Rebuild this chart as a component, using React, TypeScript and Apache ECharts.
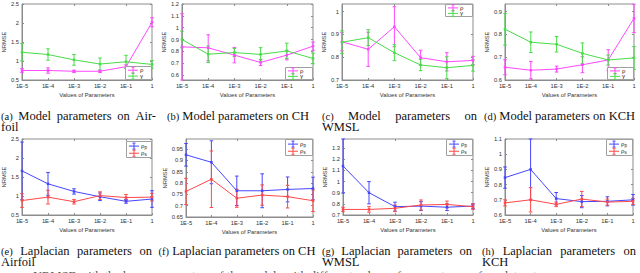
import React, { useEffect, useRef } from "react";
import * as echarts from "echarts";

const xCategories = ["1E-5", "1E-4", "1E-3", "1E-2", "1E-1", "1"];

// (a) Model parameters on Airfoil
const airfoilModelRho = [0.75, 0.75, 0.73, 0.73, 0.85, 2.02];
const airfoilModelRhoErr = [0.05, 0.07, 0.03, 0.03, 0.05, 0.12];
const airfoilModelGamma = [1.23, 1.17, 1.03, 0.92, 0.98, 0.91];
const airfoilModelGammaErr = [0.23, 0.15, 0.14, 0.16, 0.17, 0.1];
const airfoilTicks = [0.5, 1, 1.5, 2, 2.5];

// (b) Model parameters on CH
const chModelRho = [0.838, 0.83, 0.768, 0.706, 0.768, 0.844];
const chModelRhoErr = [0.28, 0.11, 0.065, 0.025, 0.04, 0.035];
const chModelGamma = [0.9, 0.776, 0.79, 0.774, 0.804, 0.74];
const chModelGammaErr = [0.07, 0.07, 0.035, 0.057, 0.065, 0.045];
const chModelTicks = [0.6, 0.7, 0.8, 0.9, 1, 1.1, 1.2];

// (c) Model parameters on WMSL
const wmslModelRho = [0.868, 0.835, 0.934, 0.798, 0.78, 0.786];
const wmslModelRhoErr = [0.04, 0.075, 0.088, 0.033, 0.04, 0.018];
const wmslModelGamma = [0.866, 0.886, 0.82, 0.766, 0.754, 0.764];
const wmslModelGammaErr = [0.05, 0.035, 0.035, 0.025, 0.048, 0.025];
const wmslModelTicks = [0.7, 0.8, 0.9, 1];

// (d) Model parameters on KCH
const kchModelRho = [0.656, 0.643, 0.648, 0.667, 0.688, 0.871];
const kchModelRhoErr = [0.033, 0.038, 0.013, 0.035, 0.045, 0.062];
const kchModelGamma = [0.823, 0.766, 0.757, 0.717, 0.688, 0.697];
const kchModelGammaErr = [0.07, 0.045, 0.034, 0.046, 0.022, 0.05];
const kchModelTicks = [0.6, 0.7, 0.8, 0.9];

// (e) Laplacian parameters on Airfoil
const airfoilLapP = [1.66, 1.32, 1.12, 0.98, 0.86, 0.92];
const airfoilLapPErr = [0.76, 0.3, 0.07, 0.1, 0.05, 0.22];
const airfoilLapS = [0.88, 0.97, 0.85, 1.01, 0.96, 0.97];
const airfoilLapSErr = [0.18, 0.18, 0.06, 0.1, 0.08, 0.1];

// (f) Laplacian parameters on CH
const chLapP = [0.925, 0.892, 0.766, 0.766, 0.772, 0.776];
const chLapPErr = [0.05, 0.095, 0.065, 0.075, 0.055, 0.05];
const chLapS = [0.763, 0.817, 0.733, 0.747, 0.74, 0.722];
const chLapSErr = [0.058, 0.125, 0.04, 0.045, 0.05, 0.048];
const chLapTicks = [0.65, 0.7, 0.75, 0.8, 0.85, 0.9, 0.95];

// (g) Laplacian parameters on WMSL
const wmslLapP = [1.14, 0.9, 0.775, 0.78, 0.77, 0.78];
const wmslLapPErr = [0.243, 0.1, 0.04, 0.04, 0.03, 0.02];
const wmslLapS = [0.75, 0.75, 0.76, 0.79, 0.795, 0.775];
const wmslLapSErr = [0.02, 0.025, 0.03, 0.045, 0.03, 0.025];
const wmslLapTicks = [0.7, 0.8, 0.9, 1, 1.1, 1.2, 1.3];

// (h) Laplacian parameters on KCH
const kchLapP = [0.846, 0.9, 0.708, 0.688, 0.69, 0.7];
const kchLapPErr = [0.07, 0.2, 0.04, 0.04, 0.03, 0.035];
const kchLapS = [0.68, 0.7, 0.67, 0.705, 0.685, 0.69];
const kchLapSErr = [0.02, 0.08, 0.015, 0.05, 0.02, 0.02];
const kchLapTicks = [0.6, 0.7, 0.8, 0.9, 1, 1.1];

const MAGENTA = "#ff48ff";
const GREEN = "#48dc48";
const BLUE = "#4646ff";
const RED = "#ff4848";
const AXIS_COLOR = "#8c8c8c";
const SANS = "'Liberation Sans', Arial, sans-serif";
const SERIF = "'Liberation Serif', 'Times New Roman', serif";

type SDef = { label: string; sub?: string; color: string; values: number[]; errs: number[] };
type Panel = {
  left: number; top: number; width: number; height: number;
  min: number; max: number; ticks: number[]; nameGap: number;
  series: SDef[];
  legend: { x: number; y: number; w: number; h: number };
};

const modelSeries = (r: number[], re: number[], g: number[], ge: number[]): SDef[] => [
  { label: "ρ", color: MAGENTA, values: r, errs: re },
  { label: "γ", color: GREEN, values: g, errs: ge },
];
const lapSeries = (p: number[], pe: number[], s: number[], se: number[]): SDef[] => [
  { label: "ρ", sub: "p", color: BLUE, values: p, errs: pe },
  { label: "ρ", sub: "s", color: RED, values: s, errs: se },
];

const panels: Panel[] = [
  { left: 22, top: 4, width: 130, height: 76, min: 0.5, max: 2.5, ticks: airfoilTicks, nameGap: 12,
    series: modelSeries(airfoilModelRho, airfoilModelRhoErr, airfoilModelGamma, airfoilModelGammaErr),
    legend: { x: 125, y: 66, w: 27, h: 14 } },
  { left: 182, top: 4, width: 131, height: 76, min: 0.558, max: 1.2, ticks: chModelTicks, nameGap: 12,
    series: modelSeries(chModelRho, chModelRhoErr, chModelGamma, chModelGammaErr),
    legend: { x: 285, y: 67, w: 28, h: 13 } },
  { left: 342, top: 4, width: 131, height: 76, min: 0.7, max: 1.034, ticks: wmslModelTicks, nameGap: 12,
    series: modelSeries(wmslModelRho, wmslModelRhoErr, wmslModelGamma, wmslModelGammaErr),
    legend: { x: 445, y: 4, w: 28, h: 13 } },
  { left: 505, top: 4, width: 129, height: 76, min: 0.6, max: 0.934, ticks: kchModelTicks, nameGap: 15,
    series: modelSeries(kchModelRho, kchModelRhoErr, kchModelGamma, kchModelGammaErr),
    legend: { x: 607, y: 67, w: 27, h: 13 } },
  { left: 22, top: 139, width: 130, height: 76, min: 0.5, max: 2.5, ticks: airfoilTicks, nameGap: 12,
    series: lapSeries(airfoilLapP, airfoilLapPErr, airfoilLapS, airfoilLapSErr),
    legend: { x: 126, y: 141, w: 26, h: 17 } },
  { left: 186, top: 139, width: 127, height: 78, min: 0.65, max: 0.995, ticks: chLapTicks, nameGap: 15,
    series: lapSeries(chLapP, chLapPErr, chLapS, chLapSErr),
    legend: { x: 285, y: 139, w: 28, h: 17 } },
  { left: 343, top: 139, width: 130, height: 76, min: 0.7, max: 1.383, ticks: wmslLapTicks, nameGap: 13,
    series: lapSeries(wmslLapP, wmslLapPErr, wmslLapS, wmslLapSErr),
    legend: { x: 446, y: 139, w: 27, h: 17 } },
  { left: 505, top: 139, width: 128, height: 76, min: 0.6, max: 1.1, ticks: kchLapTicks, nameGap: 15,
    series: lapSeries(kchLapP, kchLapPErr, kchLapS, kchLapSErr),
    legend: { x: 606, y: 139, w: 27, h: 17 } },
];

type Caption = { lines: string[][]; left: number; right: number; y: number; center?: number };
const TOP_CAP_Y = 116;
const BOTTOM_CAP_Y = 251;
const captions: Caption[] = [
  { lines: [["(a)", "Model", "parameters", "on", "Air-"], ["foil"]], left: 1, right: 156, y: TOP_CAP_Y },
  { lines: [["(b)", "Model", "parameters", "on", "CH"]], left: 162, right: 318, y: TOP_CAP_Y, center: 238 },
  { lines: [["(c)", "Model", "parameters", "on"], ["WMSL"]], left: 322, right: 477, y: TOP_CAP_Y },
  { lines: [["(d)", "Model", "parameters", "on", "KCH"]], left: 482, right: 637, y: TOP_CAP_Y, center: 559.5 },
  { lines: [["(e)", "Laplacian", "parameters", "on"], ["Airfoil"]], left: 1, right: 152, y: BOTTOM_CAP_Y },
  { lines: [["(f)", "Laplacian", "parameters", "on", "CH"]], left: 162, right: 318, y: BOTTOM_CAP_Y, center: 237 },
  { lines: [["(g)", "Laplacian", "parameters", "on"], ["WMSL"]], left: 322, right: 472, y: BOTTOM_CAP_Y },
  { lines: [["(h)", "Laplacian", "parameters", "on"], ["KCH"]], left: 482, right: 636, y: BOTTOM_CAP_Y },
];
const bottomText = "NRMSE with the hyper-parameters of the models with different values of parameters on four datasets.";

const WORD_SIZE = 12.5;
const LABEL_SIZE = 10.5;
const LINE_GAP = 10.5;

let measureCtx: CanvasRenderingContext2D | null = null;
function measure(text: string, size: number): number {
  if (!measureCtx) measureCtx = document.createElement("canvas").getContext("2d");
  if (!measureCtx) return text.length * size * 0.5;
  measureCtx.font = `${size}px ${SERIF}`;
  return measureCtx.measureText(text).width;
}

function captionElements(c: Caption): any[] {
  const out: any[] = [];
  c.lines.forEach((words, li) => {
    const sizes = words.map((w, i) => (li === 0 && i === 0 ? LABEL_SIZE : WORD_SIZE));
    const widths = words.map((w, i) => measure(w, sizes[i]));
    const sum = widths.reduce((a, b) => a + b, 0);
    const space = measure(" ", WORD_SIZE);
    let x = c.left;
    let gap = space;
    if (li === 0 && c.center !== undefined) {
      const total = sum + space * (words.length - 1);
      x = c.center - total / 2;
    } else if (li === 0 && c.lines.length > 1 && words.length > 1) {
      gap = (c.right - c.left - sum) / (words.length - 1);
    }
    const y = c.y + li * LINE_GAP;
    words.forEach((w, i) => {
      out.push({
        type: "text", x, y, z: 100,
        style: { text: w, fontSize: sizes[i], lineHeight: 9, fontFamily: SERIF, fill: "#111", verticalAlign: "middle", align: "left" },
      });
      x += widths[i] + gap;
    });
  });
  return out;
}

function legendElements(p: Panel): any[] {
  const { x, y, w, h } = p.legend;
  const out: any[] = [
    { type: "rect", z: 100, shape: { x: x + 0.5, y: y + 0.5, width: w - 1, height: h - 1 },
      style: { fill: "#fff", stroke: "#a0a0a0", lineWidth: 1 } },
  ];
  p.series.forEach((s, i) => {
    const cy = y + h * (i === 0 ? 0.3 : 0.72);
    const x1 = x + 3, x2 = x + 13, mx = (x1 + x2) / 2;
    out.push({ type: "line", z: 101, shape: { x1, y1: cy, x2, y2: cy }, style: { stroke: s.color, lineWidth: 1 } });
    out.push({ type: "line", z: 101, shape: { x1: mx, y1: cy - 3, x2: mx, y2: cy + 3 }, style: { stroke: s.color, lineWidth: 1 } });
    out.push({ type: "line", z: 101, shape: { x1: mx - 1.5, y1: cy - 3, x2: mx + 1.5, y2: cy - 3 }, style: { stroke: s.color, lineWidth: 1 } });
    out.push({ type: "line", z: 101, shape: { x1: mx - 1.5, y1: cy + 3, x2: mx + 1.5, y2: cy + 3 }, style: { stroke: s.color, lineWidth: 1 } });
    out.push({
      type: "text", z: 101, x: x + 15, y: cy,
      style: {
        text: s.sub ? `{r|${s.label}}{s|${s.sub}}` : `{r|${s.label}}`,
        verticalAlign: "middle",
        rich: {
          r: { fontSize: 6, fontFamily: SANS, fill: "#222" },
          s: { fontSize: 4.5, fontFamily: SANS, fill: "#222", padding: [3, 0, 0, 0] },
        },
      },
    });
  });
  return out;
}

const errRender = (color: string) => (params: any, api: any) => {
  const xi = api.value(0);
  const a = api.coord([xi, api.value(1)]);
  const b = api.coord([xi, api.value(2)]);
  const cw = 1.8;
  const st = { stroke: color, lineWidth: 1 };
  return {
    type: "group",
    children: [
      { type: "line", shape: { x1: a[0], y1: a[1], x2: b[0], y2: b[1] }, style: st },
      { type: "line", shape: { x1: a[0] - cw, y1: a[1], x2: a[0] + cw, y2: a[1] }, style: st },
      { type: "line", shape: { x1: b[0] - cw, y1: b[1], x2: b[0] + cw, y2: b[1] }, style: st },
    ],
  };
};

function buildOption(): any {
  const grid: any[] = [], xAxis: any[] = [], yAxis: any[] = [], series: any[] = [], graphic: any[] = [];
  const axisText = { fontSize: 5.8, color: "#333", fontFamily: SANS };
  panels.forEach((p, i) => {
    grid.push({ left: p.left, top: p.top, width: p.width, height: p.height, show: true,
      borderColor: AXIS_COLOR, borderWidth: 1, backgroundColor: "#fff" });
    xAxis.push({
      type: "category", gridIndex: i, data: xCategories, boundaryGap: false,
      axisLine: { show: true, lineStyle: { color: AXIS_COLOR, width: 1 } },
      axisTick: { show: true, inside: true, length: 2, lineStyle: { color: AXIS_COLOR } },
      axisLabel: { ...axisText, margin: 3, interval: 0 },
      splitLine: { show: false },
      name: "Values of Parameters", nameLocation: "middle", nameGap: 12, nameTextStyle: axisText,
    });
    xAxis.push({
      type: "category", gridIndex: i, position: "top", data: xCategories, boundaryGap: false,
      axisLine: { show: false },
      axisTick: { show: true, inside: true, length: 2, lineStyle: { color: AXIS_COLOR } },
      axisLabel: { show: false }, splitLine: { show: false },
    });
    yAxis.push({
      type: "value", gridIndex: i, min: p.min, max: p.max,
      axisLine: { show: true, lineStyle: { color: AXIS_COLOR, width: 1 } },
      axisTick: { show: true, inside: true, length: 2, customValues: p.ticks, lineStyle: { color: AXIS_COLOR } },
      axisLabel: { ...axisText, margin: 3, customValues: p.ticks },
      splitLine: { show: false },
      name: "NRMSE", nameLocation: "middle", nameGap: p.nameGap, nameRotate: 90, nameTextStyle: axisText,
    });
    yAxis.push({
      type: "value", gridIndex: i, position: "right", min: p.min, max: p.max,
      axisLine: { show: false },
      axisTick: { show: true, inside: true, length: 2, customValues: p.ticks, lineStyle: { color: AXIS_COLOR } },
      axisLabel: { show: false, customValues: p.ticks }, splitLine: { show: false },
    });
    p.series.forEach((s) => {
      series.push({
        type: "custom", xAxisIndex: 2 * i, yAxisIndex: 2 * i, silent: true, z: 2, clip: false,
        data: s.values.map((v, k) => [k, v - s.errs[k], v + s.errs[k]]),
        renderItem: errRender(s.color),
      });
      series.push({
        type: "line", xAxisIndex: 2 * i, yAxisIndex: 2 * i, silent: true, z: 3,
        data: s.values, symbol: "rect", symbolSize: 2.5,
        lineStyle: { color: s.color, width: 1 }, itemStyle: { color: s.color },
      });
    });
    graphic.push(...legendElements(p));
  });
  captions.forEach((c) => graphic.push(...captionElements(c)));
  graphic.push({
    type: "text", x: 33, y: 275.5, z: 100,
    style: { text: bottomText, fontSize: WORD_SIZE, lineHeight: 9, fontFamily: SERIF, fill: "#555", verticalAlign: "middle" },
  });
  return { animation: false, backgroundColor: "#fff", grid, xAxis, yAxis, series, graphic };
}

export default function App() {
  const ref = useRef<HTMLDivElement>(null);
  useEffect(() => {
    if (!ref.current) return;
    const chart = echarts.init(ref.current, null, { renderer: "svg" });
    chart.setOption(buildOption());
    return () => chart.dispose();
  }, []);
  return (
    <div
      ref={ref}
      style={{ position: "absolute", left: 0, top: 0, width: 640, height: 273, overflow: "hidden", background: "#fff" }}
    />
  );
}
